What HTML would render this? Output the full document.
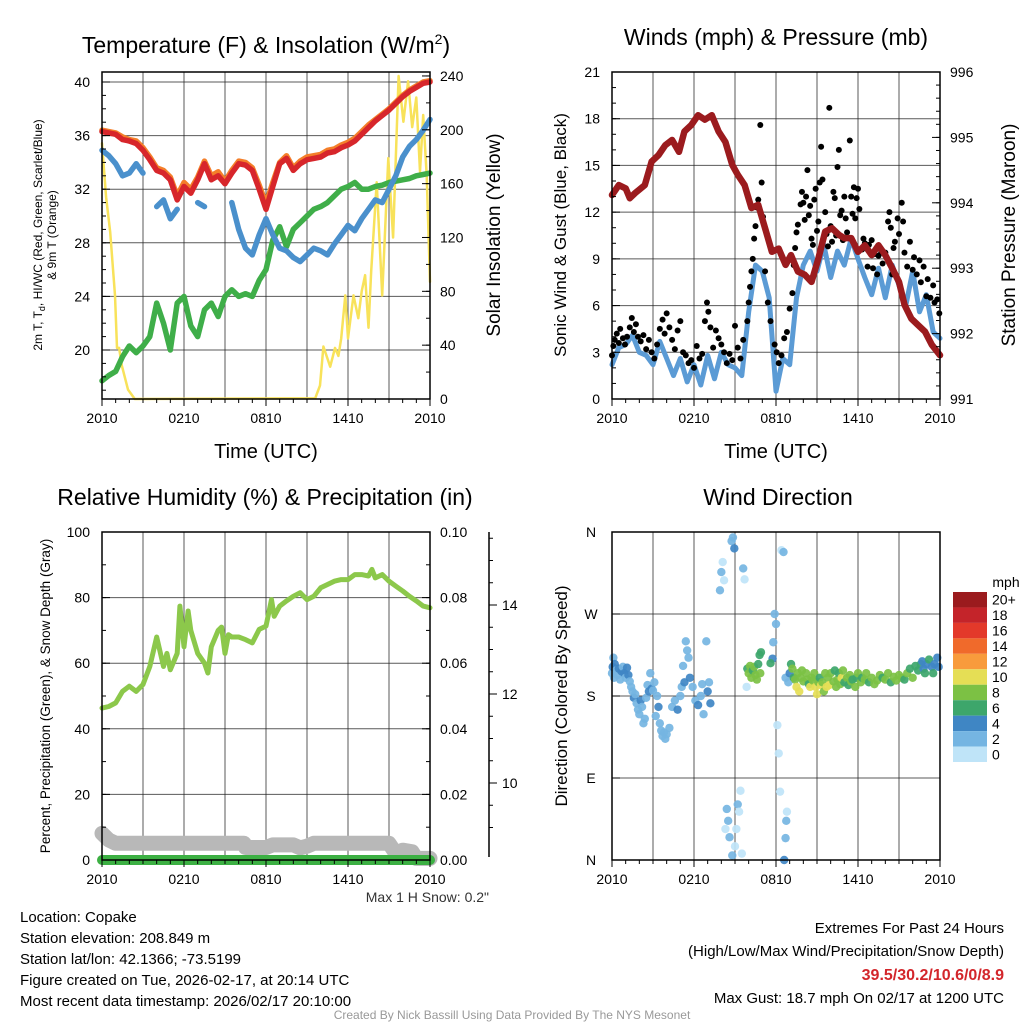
<!DOCTYPE html>
<html><head><meta charset="utf-8"><style>
html,body{margin:0;padding:0;background:#fff;}
svg{display:block;font-family:"Liberation Sans",sans-serif;}
</style></head><body>
<svg id="svg" width="1024" height="1024" viewBox="0 0 1024 1024" xmlns="http://www.w3.org/2000/svg">
<g id="static">
<text x="266" y="53" font-size="23" text-anchor="middle">Temperature (F) &amp; Insolation (W/m<tspan font-size="14" dy="-9">2</tspan><tspan dy="9">)</tspan></text>
<text x="776" y="45" font-size="23" text-anchor="middle">Winds (mph) &amp; Pressure (mb)</text>
<text x="265" y="505" font-size="23" text-anchor="middle">Relative Humidity (%) &amp; Precipitation (in)</text>
<text x="778" y="505" font-size="23" text-anchor="middle">Wind Direction</text>

<text transform="translate(42,235) rotate(-90)" font-size="12" text-anchor="middle">2m T, T<tspan font-size="9" dy="3">d</tspan><tspan dy="-3">, HI/WC (Red, Green, Scarlet/Blue)</tspan></text>
<text transform="translate(56,235) rotate(-90)" font-size="12" text-anchor="middle">&amp; 9m T (Orange)</text>
<text transform="translate(500,235) rotate(-90)" font-size="19" text-anchor="middle">Solar Insolation (Yellow)</text>
<text transform="translate(566,235) rotate(-90)" font-size="17" text-anchor="middle">Sonic Wind &amp; Gust (Blue, Black)</text>
<text transform="translate(1015,235) rotate(-90)" font-size="19" text-anchor="middle">Station Pressure (Maroon)</text>
<text transform="translate(50,696) rotate(-90)" font-size="13.5" text-anchor="middle">Percent, Precipitation (Green), &amp; Snow Depth (Gray)</text>
<text transform="translate(567,696) rotate(-90)" font-size="17" text-anchor="middle">Direction (Colored By Speed)</text>

<text x="266" y="458" font-size="20" text-anchor="middle">Time (UTC)</text>
<text x="776" y="458" font-size="20" text-anchor="middle">Time (UTC)</text>

<text x="489" y="902" font-size="14" fill="#333" text-anchor="end">Max 1 H Snow: 0.2"</text>

<g font-size="15">
<text x="20" y="922">Location: Copake</text>
<text x="20" y="943">Station elevation: 208.849 m</text>
<text x="20" y="964">Station lat/lon: 42.1366; -73.5199</text>
<text x="20" y="985">Figure created on Tue, 2026-02-17, at 20:14 UTC</text>
<text x="20" y="1006">Most recent data timestamp: 2026/02/17 20:10:00</text>
</g>
<g font-size="15" text-anchor="end">
<text x="1004" y="933">Extremes For Past 24 Hours</text>
<text x="1004" y="956">(High/Low/Max Wind/Precipitation/Snow Depth)</text>
<text x="1004" y="980" fill="#d3262b" font-weight="bold" font-size="16">39.5/30.2/10.6/0/8.9</text>
<text x="1004" y="1003">Max Gust: 18.7 mph On 02/17 at 1200 UTC</text>
</g>
<text x="512" y="1019" font-size="12" fill="#999" text-anchor="middle">Created By Nick Bassill Using Data Provided By The NYS Mesonet</text>
</g>
<g id="dyn"></g>
</svg>
<script>
// ---------- data ----------
const timeLabels = ["2010","0210","0810","1410","2010"];
const tempRed = [36.3,36.2,36.1,35.7,35.6,35.4,34.9,34.2,33.4,33.2,32.7,31.2,32.2,31.7,32.7,33.9,32.7,33.0,32.4,33.2,33.9,33.8,33.4,32.0,30.5,32.2,33.9,34.3,33.4,33.9,34.2,34.3,34.4,34.7,34.8,35.1,35.3,35.6,36.1,36.6,37.1,37.5,37.9,38.4,38.9,39.3,39.6,39.9,40.0];
const tempOrange = [36.4,36.3,36.2,35.9,35.7,35.6,35.1,34.4,33.6,33.4,32.9,31.5,32.5,32.0,32.9,34.1,33.0,33.3,32.6,33.4,34.1,34.0,33.6,32.3,30.9,32.5,34.0,34.5,33.6,34.1,34.4,34.5,34.6,34.9,35.0,35.3,35.5,35.8,36.3,36.8,37.2,37.6,38.0,38.5,39.0,39.4,39.7,40.0,40.1];
const tempBlue = [34.9,34.5,33.9,33.0,33.2,33.9,33.2,null,30.7,31.2,29.8,30.5,null,null,31.0,30.7,null,30.5,null,31.0,29.0,27.6,27.1,28.6,29.8,28.6,27.6,27.4,26.9,26.6,27.1,27.6,27.4,27.1,27.9,28.6,29.3,28.9,29.8,30.5,31.2,31.0,32.0,33.0,34.4,35.2,35.7,36.4,37.2];
const tempGreen = [17.7,18.1,18.4,19.5,20.3,19.8,20.3,21.0,23.5,22.0,20.0,23.5,24.0,21.8,21.0,23.0,23.5,22.5,24.0,24.5,24.0,24.2,24.0,25.2,26.0,28.2,29.2,27.7,29.0,29.5,30.0,30.5,30.7,31.0,31.5,32.0,32.2,32.5,32.0,32.0,32.2,32.3,32.5,32.6,32.7,32.8,33.0,33.1,33.2];
const solarT = [0,0.3,0.6,0.95,1.1,1.25,1.45,1.9,2.4,15.6,15.95,16.2,16.7,17.05,17.3,17.5,17.8,18.0,18.4,18.75,19.0,19.25,19.5,19.7,20.1,20.5,20.95,21.3,21.7,22.05,22.4,22.7,23.0,23.27,23.5,23.76,24];
const solarV = [190,150,124,77,38,38,25,7,0,0.5,10,39,24,38,32,45,77,45,77,60,80,92,53,95,161,77,179,120,240,206,236,202,224,169,211,166,87];
const windBlue = [2.2,3.3,3.5,4.1,3.0,2.8,2.2,3.7,2.6,1.5,2.6,1.1,2.2,0.9,2.8,1.3,3.0,2.2,2.0,1.5,5.6,8.6,8.2,6.5,0.5,2.6,2.2,6.5,8.6,9.5,8.2,9.9,7.8,9.5,8.6,10.3,9.0,7.8,6.7,8.4,6.5,8.6,7.3,6.0,8.2,5.6,6.7,4.3,3.9];
const gustT = [0.0,0.1,0.2,0.35,0.5,0.6,0.8,0.95,1.1,1.3,1.45,1.6,1.75,1.9,2.1,2.3,2.5,2.7,2.9,3.1,3.3,3.5,3.7,3.85,4.0,4.2,4.4,4.6,4.8,5.0,5.2,5.4,5.6,5.8,6.0,6.2,6.4,6.6,6.8,6.95,7.05,7.2,7.4,7.6,7.8,8.0,8.2,8.4,8.6,8.8,9.0,9.2,9.4,9.6,9.9,10.0,10.1,10.2,10.3,10.4,10.5,10.6,10.7,10.85,10.95,11.05,11.2,11.4,11.6,11.9,12.05,12.2,12.4,12.6,12.8,13.0,13.2,13.3,13.4,13.5,13.6,13.8,13.9,14.0,14.1,14.2,14.3,14.4,14.5,14.6,14.7,14.8,14.9,15.0,15.1,15.2,15.3,15.4,15.6,15.7,15.8,15.9,16.0,16.1,16.2,16.3,16.4,16.5,16.6,16.7,16.8,16.9,17.0,17.1,17.2,17.4,17.5,17.6,17.7,17.8,17.9,18.0,18.1,18.3,18.4,18.5,18.7,18.8,19.0,19.1,19.2,19.4,19.5,19.7,19.8,20.0,20.2,20.3,20.4,20.5,20.6,20.7,20.9,21.0,21.2,21.3,21.4,21.6,21.8,22.0,22.1,22.3,22.5,22.6,22.8,23.0,23.1,23.3,23.5,23.6,23.8,23.95];
const gustV = [2.8,3.4,3.8,4.2,3.6,4.5,3.9,3.5,4.0,4.6,5.2,4.3,4.8,4.0,3.7,4.1,3.2,3.8,3.0,2.6,3.5,4.5,5.1,4.2,5.5,4.6,3.8,3.2,4.4,5.0,3.0,2.8,2.3,2.5,2.0,3.4,2.6,2.9,5.0,6.2,5.6,4.6,3.3,4.4,3.9,3.5,3.0,2.3,2.9,2.5,4.7,3.3,2.6,3.8,5.0,6.2,7.2,8.2,9.0,10.3,11.1,12.3,12.8,17.6,13.9,11.7,8.2,6.2,5.0,3.5,3.0,2.3,2.8,3.9,4.3,5.8,6.8,8.6,9.7,10.7,11.2,12.5,13.3,12.6,11.5,13.0,14.7,11.8,12.4,10.3,9.9,12.8,13.5,10.8,11.4,13.9,16.2,14.1,12.0,10.6,9.8,18.7,11.1,10.1,13.3,12.9,10.5,14.9,16.0,11.8,12.1,10.2,13.0,11.6,10.7,16.6,13.0,11.9,13.6,11.6,12.9,13.5,12.2,9.6,10.3,10.0,8.5,9.9,10.2,8.4,9.3,8.0,9.2,9.4,8.7,9.4,11.4,12.0,11.0,8.0,9.7,10.1,11.6,10.6,12.6,11.4,9.4,8.5,10.1,8.3,9.1,8.0,8.9,7.5,8.5,6.6,7.7,6.5,7.3,6.2,6.4,5.5];
const presT = [0,0.5,1,1.3,1.7,2.4,2.9,3.4,3.9,4.4,4.9,5.3,5.8,6.3,6.8,7.3,7.8,8.3,8.8,9.2,9.7,10.2,10.7,11.2,11.7,12.2,12.7,13.1,13.6,14.1,14.6,15.1,15.6,16.1,16.6,17,17.5,18,18.5,19,19.5,20,20.5,21,21.4,21.9,22.4,22.9,23.4,24];
const presV = [994.12,994.27,994.22,994.07,994.15,994.27,994.63,994.73,994.88,994.96,994.78,995.09,995.19,995.34,995.27,995.34,995.09,994.93,994.58,994.43,994.27,993.92,993.97,993.61,993.25,993.30,993.05,993.20,992.95,992.90,992.79,993.15,993.56,993.61,993.51,993.46,993.46,993.25,993.35,993.20,993.35,993.20,993.00,992.79,992.44,992.23,992.13,992.03,991.83,991.67];
const rhT = [0,0.5,1,1.5,2,2.5,3,3.5,4,4.5,4.75,5,5.5,5.7,6,6.3,6.5,7,7.5,7.75,8,8.5,8.75,9,9.25,9.5,10,10.5,11,11.5,12,12.4,12.6,13,13.5,14,14.5,15,15.5,16,16.5,17,17.5,18,18.5,19,19.5,19.75,20,20.5,21,21.5,22,22.5,23,23.5,24];
const rhV = [46.3,46.8,47.9,51.4,53,51.4,53.5,59,68,59,63,58,63,77.4,65,75.9,70,63,60,57,65,70,71,63,68.7,68,68,67.2,66.2,70.3,71.3,79.4,74.3,77.4,79,80.4,81.5,79.4,80.4,83,84,85,85.5,85.5,87,87,86.6,88.6,86,87,85,83.5,82,80.4,79,77.4,76.9];
const snowT = [0,0.5,1,10.4,10.5,12,12.5,13,14,14.5,15,15.5,21,21.5,22,22.7,23,24];
const snowV = [8.1,6.1,5.1,5.1,3.8,3.8,4.6,4.6,4.6,3.7,4.2,5.1,5.1,2.0,3.0,2.5,0.5,0.5];
const precipT = [0,24];
const precipV = [0,0];
const dirT = [0.0,0.05,0.1,0.15,0.2,0.3,0.4,0.5,0.6,0.7,0.8,0.9,1.0,1.1,1.2,1.3,1.4,1.5,1.6,1.7,1.8,1.9,2.0,2.1,2.2,2.3,2.4,2.5,2.6,2.7,2.8,2.9,3.0,3.1,3.2,3.3,3.4,3.5,3.6,3.7,3.8,3.9,4.0,4.2,4.4,4.6,4.8,5.0,5.1,5.2,5.3,5.4,5.5,5.6,5.7,5.9,6.1,6.3,6.5,6.6,6.7,6.9,7.0,7.1,7.2,
 8.0,8.1,8.2,7.9,8.75,8.85,8.95,9.6,9.7,
 9.4,9.2,8.4,8.5,8.3,8.6,9.1,9.0,8.8,9.5,9.3,
 11.9,12.0,11.8,11.75,11.6,12.4,12.55,12.1,12.2,12.3,12.8,12.75,12.7,12.6,
 9.85,9.9,10.0,10.1,10.2,10.3,10.4,10.5,10.6,10.7,10.8,10.85,10.9,
 12.7,12.9,13.0,13.1,13.2,13.3,13.4,13.5,13.6,13.7,13.8,13.9,14.0,14.2,14.3,14.4,14.5,14.6,14.7,14.8,14.9,15.0,15.1,15.2,15.3,15.4,15.5,15.6,15.7,15.8,15.9,16.0,16.2,16.3,16.4,16.5,16.6,16.7,16.8,16.9,17.0,17.2,17.3,17.4,17.5,17.6,17.8,17.9,18.0,18.2,18.3,18.5,18.6,18.8,19.0,19.2,19.4,19.6,19.8,20.0,20.2,20.4,20.6,20.8,21.0,21.2,21.4,21.6,21.8,22.0,22.2,22.4,22.6,22.7,22.8,22.9,23.0,23.2,23.4,23.5,23.6,23.8,23.9];
const dirV = [205,212,222,200,215,208,203,210,198,207,212,205,200,211,203,196,190,185,178,182,172,165,160,175,168,150,155,178,192,185,205,188,186,195,158,180,168,150,142,136,140,133,138,145,168,175,165,180,190,213,195,240,230,222,200,190,175,170,180,193,160,240,185,195,172,
 316,327,307,296,350,354,342,320,308,
 76,61,56,43,34,25,34,15,5,7,53,
 270,259,239,221,216,340,338,148,117,75,53,43,24,0,
 190,210,205,213,200,208,212,203,198,215,225,205,228,
 200,195,205,215,210,200,198,190,205,185,200,208,196,205,198,193,190,200,197,205,190,182,195,200,192,195,185,205,190,200,192,205,196,208,190,198,205,193,200,208,195,200,192,203,196,198,190,200,205,195,200,198,205,195,200,193,197,203,200,198,205,195,201,197,203,200,198,205,210,200,213,208,215,218,210,205,215,220,212,205,215,222,212];
const dirS = [2,3,2,2,4,2,2,3,2,4,2,3,2,4,3,2,2,2,3,2,2,2,2,4,2,2,2,2,1,3,2,4,2,2,2,2,4,2,2,2,2,1,2,2,2,2,4,1,2,1,3,1,2,1,4,2,1,3,2,2,1,2,3,2,4,
 2,0,0,2,2,2,3,2,0,
 0,2,2,2,0,2,0,0,2,0,0,
 2,2,2,4,6,0,2,0,0,0,0,2,2,3,
 0,6,8,7,8,6,8,8,7,6,6,7,6,
 1,1,4,6,8,6,8,10,8,10,8,8,8,8,8,6,10,8,8,8,10,10,8,6,10,8,8,8,10,8,10,8,8,6,8,8,6,8,10,8,6,8,6,8,8,6,8,6,8,8,6,8,8,6,8,8,8,8,6,8,8,6,8,8,8,8,6,8,6,8,6,6,6,4,4,6,4,6,4,6,4,4,4];
const speedLabels = ["20+","18","16","14","12","10","8","6","4","2","0"];
const speedColors = ["#9b1b1e","#c4242a","#e3392a","#f06a2b","#f89b3c","#e5de55","#7cc144","#3da66b","#3f86c4","#75b5e2","#bfe4f8"];

// ---------- helpers ----------
const NS = "http://www.w3.org/2000/svg";
const dyn = document.getElementById("dyn");
function mk(tag, attrs, parent){
  const e = document.createElementNS(NS, tag);
  for (const k in attrs) e.setAttribute(k, attrs[k]);
  (parent||dyn).appendChild(e);
  return e;
}
const half = tempRed.map((_, i) => i * 0.5);
function pathD(ts, vs, sx, sy){
  let d = "", pen = false;
  for (let i = 0; i < ts.length; i++){
    if (vs[i] === null){ pen = false; continue; }
    d += (pen ? "L" : "M") + sx(ts[i]).toFixed(1) + "," + sy(vs[i]).toFixed(1);
    pen = true;
  }
  return d;
}
function frameAndGrid(x0, y0, w, h, hLines, name){
  const g = mk("g", {});
  
  
  for (let k = 1; k < 8; k++){
    const x = x0 + w * k / 8;
    mk("line", {x1:x, y1:y0, x2:x, y2:y0+h, stroke:"#222", "stroke-width":1, opacity:0.75}, g);
  }
  hLines.forEach(y => mk("line", {x1:x0, y1:y, x2:x0+w, y2:y, stroke:"#222", "stroke-width":1, opacity:0.75}, g));
  return g;
}
function frame(x0, y0, w, h, name){
  const r = mk("rect", {x:x0, y:y0, width:w, height:h, fill:"none", stroke:"#000", "stroke-width":1.5});
  
  
}
function timeAxis(x0, y0, w, h, name){
  const g = mk("g", {"font-size":14, "text-anchor":"middle"});
  
  
  for (let k = 0; k <= 24; k++){
    const x = x0 + w * k / 24;
    const len = (k % 6 === 0) ? 7 : 4;
    mk("line", {x1:x, y1:y0+h, x2:x, y2:y0+h+len, stroke:"#000"}, g);
  }
  timeLabels.forEach((lab, i) => {
    const t = mk("text", {x:x0 + w * i / 4, y:y0+h+24}, g);
    t.textContent = lab;
  });
}
function yTicks(x, vals, sy, side, fmt, name, minorVals){
  const g = mk("g", {"font-size":14, "text-anchor": side === "left" ? "end" : "start"});
  
  
  (minorVals||[]).forEach(v => {
    const y = sy(v);
    mk("line", {x1:x, y1:y, x2: side==="left" ? x+4 : x-4, y2:y, stroke:"#000"}, g);
  });
  vals.forEach(v => {
    const y = sy(v);
    mk("line", {x1:x, y1:y, x2: side==="left" ? x+8 : x-8, y2:y, stroke:"#000"}, g);
    const t = mk("text", {x: side==="left" ? x-12 : x+10, y:y+5}, g);
    t.textContent = fmt(v);
  });
}
function range(a, b, s){ const r=[]; for (let v=a; v<=b+1e-9; v+=s) r.push(+v.toFixed(4)); return r; }

// ---------- Panel 1: temperature ----------
(function(){
  const x0=102, y0=72, w=328, h=327;
  const sx = t => x0 + t / 24 * w;
  const sy = v => 82 + (40 - v) * 13.4;
  const sI = v => 399 - v * 1.346;
  frameAndGrid(x0, y0, w, h, [40,36,32,28,24,20].map(sy), "temperature");
  const add = (ts, vs, color, width, name, scale) => {
    const p = mk("path", {d:pathD(ts, vs, sx, scale||sy), fill:"none", stroke:color, "stroke-width":width, "stroke-linejoin":"round", "stroke-linecap":"round"});
    
    
  };
  add(solarT, solarV, "#f8e25a", 2.5, "solar-insolation-line", sI);
  add(half, tempGreen, "#3fae49", 5.5, "dewpoint-line");
  add(half, tempBlue, "#4a90cc", 5.5, "wind-chill-line");
  add(half, tempOrange, "#f47f2a", 5.5, "temp-9m-line");
  add(half, tempRed, "#d7262b", 5.5, "temp-2m-line");
  frame(x0, y0, w, h, "temperature");
  yTicks(x0, [20,24,28,32,36,40], sy, "left", v => v, "temperature-y-ticks", range(17,40,1));
  yTicks(x0+w, [0,40,80,120,160,200,240], sI, "right", v => v, "insolation-y-ticks", range(0,240,20));
  timeAxis(x0, y0, w, h, "temperature");
})();

// ---------- Panel 2: winds ----------
(function(){
  const x0=612, y0=72, w=328, h=327;
  const sx = t => x0 + t / 24 * w;
  const sy = v => 399 - v * (327/21);
  const sp = v => 399 - (v - 991) * (327/5);
  frameAndGrid(x0, y0, w, h, [3,6,9,12,15,18].map(sy), "winds");
  const wl = mk("path", {d:pathD(half, windBlue, sx, sy), fill:"none", stroke:"#5b9bd5", "stroke-width":5, "stroke-linejoin":"round", "stroke-linecap":"round"});
  
  
  const gg = mk("g", {});
  
  
  gustT.forEach((t, i) => {
    const c = mk("circle", {cx:sx(t), cy:sy(gustV[i]), r:3, fill:"#000"}, gg);
    
    
  });
  const pl = mk("path", {d:pathD(presT, presV, sx, sp), fill:"none", stroke:"#9b1b1e", "stroke-width":6.5, "stroke-linejoin":"round", "stroke-linecap":"round"});
  
  
  frame(x0, y0, w, h, "winds");
  yTicks(x0, range(0,21,3), sy, "left", v => v, "wind-y-ticks", range(0,21,1));
  yTicks(x0+w, range(991,996,1), sp, "right", v => v, "pressure-y-ticks", range(991,996,0.2));
  timeAxis(x0, y0, w, h, "winds");
})();

// ---------- Panel 3: humidity ----------
(function(){
  const x0=102, y0=532, w=328, h=328;
  const sx = t => x0 + t / 24 * w;
  const sy = v => 860 - v * 3.28;
  const sPr = v => 860 - v * 3280;
  const sSn = v => 605 + (14 - v) * 44.5;
  frameAndGrid(x0, y0, w, h, [20,40,60,80].map(sy), "humidity");
  const add = (ts, vs, color, width, name, scale) => {
    const p = mk("path", {d:pathD(ts, vs, sx, scale), fill:"none", stroke:color, "stroke-width":width, "stroke-linejoin":"round", "stroke-linecap":"round"});
    
    
  };
  add(snowT, snowV, "#b8b8b8", 15, "snow-depth-line", sy);
  add(precipT, precipV, "#3cb043", 10, "precipitation-line", sPr);
  add(rhT, rhV, "#8cc84b", 5, "relative-humidity-line", sy);
  frame(x0, y0, w, h, "humidity");
  yTicks(x0, range(0,100,20), sy, "left", v => v, "humidity-y-ticks", range(0,100,10));
  yTicks(x0+w, range(0,0.1,0.02), sPr, "right", v => v.toFixed(2), "precip-y-ticks", range(0,0.1,0.01));
  const ax = mk("line", {x1:489, y1:532, x2:489, y2:857, stroke:"#000", "stroke-width":1.5});
  
  
  yTicks(489, [10,12,14], sSn, "left", v => "", "snow-depth-ticks-inner", range(9,16,0.5).filter(v => sSn(v) >= 532 && sSn(v) <= 857));
  const g = mk("g", {"font-size":14});
  
  
  [10,12,14].forEach(v => { const t = mk("text", {x:502, y:sSn(v)+5}, g); t.textContent = v; });
  timeAxis(x0, y0, w, h, "humidity");
})();

// ---------- Panel 4: wind direction ----------
(function(){
  const x0=612, y0=532, w=328, h=328;
  const sx = t => x0 + t / 24 * w;
  const sy = v => 860 - v * (328/360);
  frameAndGrid(x0, y0, w, h, [90,180,270].map(sy), "direction");
  const g = mk("g", {});
  
  
  dirT.forEach((t, i) => {
    const bin = Math.min(10, Math.round(dirS[i] / 2));
    const c = mk("circle", {cx:sx(t), cy:sy(dirV[i]), r:4.2, fill:speedColors[10 - bin], opacity:0.92}, g);
    
    
  });
  frame(x0, y0, w, h, "direction");
  const labs = ["N","E","S","W","N"];
  const tg = mk("g", {"font-size":14, "text-anchor":"middle"});
  
  
  labs.forEach((l, i) => {
    const y = sy(i * 90);
    mk("line", {x1:x0, y1:y, x2:x0+8, y2:y, stroke:"#000"}, tg);
    const t = mk("text", {x:591, y:y+5}, tg); t.textContent = l;
  });
  timeAxis(x0, y0, w, h, "direction");
  const cb = mk("g", {});
  
  
  const t0 = mk("text", {x:1006, y:587, "font-size":14, "text-anchor":"middle"}, cb); t0.textContent = "mph";
  const bh = 170 / speedLabels.length;
  speedLabels.forEach((lab, i) => {
    const r = mk("rect", {x:953, y:592 + i*bh, width:34, height:bh, fill:speedColors[i]}, cb);
    
    
    const t = mk("text", {x:992, y:592 + i*bh + bh/2 + 5, "font-size":14}, cb); t.textContent = lab;
  });
})();
</script>
</body></html>
